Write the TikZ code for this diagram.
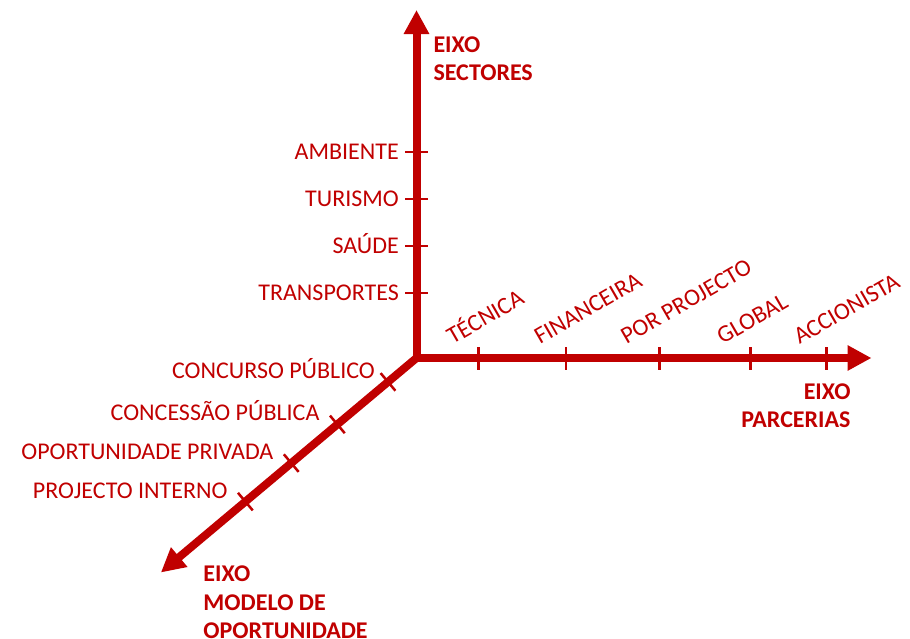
\documentclass[tikz,border=0pt]{standalone}
\usepackage{fontspec}
\setmainfont{Carlito}
\usetikzlibrary{arrows.meta,calc}
\definecolor{eixored}{HTML}{C00000}
\begin{document}
\begin{tikzpicture}[x=1pt,y=1pt,
    axis/.style={line width=8pt,eixored,-{Triangle[length=24pt,width=24pt]}},
    tickmark/.style={line width=2.5pt,eixored},
    lbl/.style={text=eixored,inner sep=0pt,font=\fontsize{24}{28}\selectfont},
    ttl/.style={text=eixored,inner sep=0pt,font=\fontsize{24}{28.3}\selectfont\bfseries}]
  \useasboundingbox (-416.5,-280) rectangle (493.5,358);
  \coordinate (o) at (0,0);
  \coordinate (sec) at (0,348);
  \coordinate (par) at (455,0);
  \coordinate (mod) at (220:333.7);
  % the three axes
  \draw[axis] (0,-4) -- (sec);
  \draw[axis] (-4,0) -- (par);
  \draw[axis] (o) -- (mod);
  % sectors
  \foreach \y/\txt [count=\i] in {65/TRANSPORTES,112/SAÚDE,159/TURISMO,206/AMBIENTE}{
    \draw[tickmark] (-11.5,\y) -- (11.5,\y);
    \node[lbl,anchor=base east] (sec\i) at (-17.5,\y-7.7) {\txt};
  }
  % partnerships
  \foreach \x/\dx/\txt [count=\i] in {62/-26/TÉCNICA,149.5/-26/FINANCEIRA,243/-33/POR PROJECTO,334/-28/GLOBAL,410/-27/ACCIONISTA}{
    \draw[tickmark] (\x,-11.5) -- (\x,11.5);
    \node[lbl,anchor=base west,rotate=30] (par\i) at (\x+\dx,13) {\txt};
  }
  % opportunity models
  \foreach \d/\dx/\txt [count=\i] in {37.2/-13/CONCURSO PÚBLICO,103.3/-17.7/CONCESSÃO PÚBLICA,163.5/-17.7/OPORTUNIDADE PRIVADA,223.4/-17.7/PROJECTO INTERNO}{
    \draw[tickmark] ($(220:\d)+(130:11.5)$) -- ($(220:\d)+(310:11.5)$);
    \node[lbl,anchor=base east] (mod\i) at ($(220:\d)+(\dx,3.6)$) {\txt};
  }
  % axis names
  \node[ttl,anchor=north west,align=left] (secname) at (16.8,321.3) {EIXO\\SECTORES};
  \node[ttl,anchor=north east,align=right] (parname) at (434.2,-25.3) {EIXO\\PARCERIAS};
  \node[ttl,anchor=north west,align=left] (modname) at (-213.2,-208) {EIXO\\MODELO DE\\OPORTUNIDADE};
\end{tikzpicture}
\end{document}
